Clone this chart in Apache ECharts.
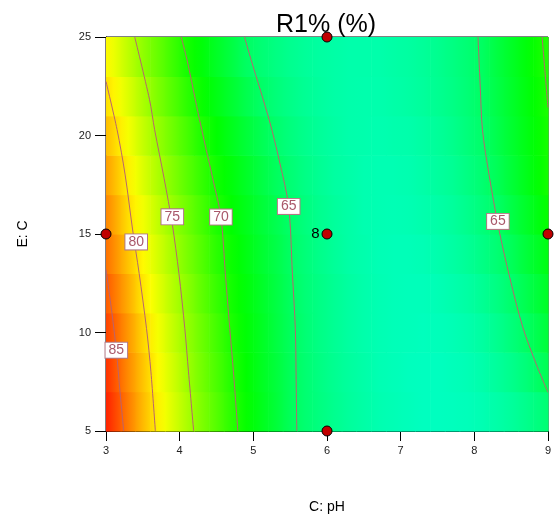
<!DOCTYPE html>
<html>
<head>
<meta charset="utf-8">
<style>html,body{margin:0;padding:0;background:#fff}#chart{width:557px;height:519px}</style>
<script src="https://cdn.jsdelivr.net/npm/echarts@6/dist/echarts.min.js"></script>
</head>
<body>
<div id="chart"></div>
<script>
// cell centres of the response grid (C: pH across, E: C up)
const colX = [3.1, 3.3, 3.5, 3.7, 3.9, 4.1, 4.3, 4.5, 4.7, 4.9,
  5.1, 5.3, 5.5, 5.7, 5.9, 6.1, 6.3, 6.5, 6.7, 6.9,
  7.1, 7.3, 7.5, 7.7, 7.9, 8.1, 8.3, 8.5, 8.7, 8.9];
const rowY = [6, 8, 10, 12, 14, 16, 18, 20, 22, 24];
// R1%, one array per row (bottom to top)
const zRows = [
  [86.5, 84.1, 81.7, 79.5, 77.6, 75.7, 73.9, 72.3, 70.6, 69.2, 68.0, 66.8, 65.5, 64.6, 64.0, 63.4, 62.9, 62.5, 62.1, 61.9, 61.7, 61.5, 61.5, 61.6, 61.7, 62.0, 62.4, 62.9, 63.5, 64.2],
  [85.9, 83.5, 81.3, 79.1, 77.2, 75.2, 73.5, 71.9, 70.3, 69.0, 67.8, 66.7, 65.5, 64.6, 63.9, 63.3, 62.8, 62.4, 62.0, 61.8, 61.6, 61.5, 61.5, 61.7, 61.9, 62.3, 62.9, 63.5, 64.3, 65.3],
  [85.3, 83.0, 80.7, 78.6, 76.7, 74.8, 73.2, 71.6, 70.0, 68.8, 67.7, 66.5, 65.4, 64.5, 63.8, 63.2, 62.7, 62.3, 62.0, 61.8, 61.7, 61.6, 61.7, 61.9, 62.2, 62.7, 63.4, 64.2, 65.1, 66.2],
  [84.4, 82.2, 79.9, 78.0, 76.1, 74.4, 72.7, 71.1, 69.7, 68.6, 67.5, 66.4, 65.3, 64.4, 63.8, 63.2, 62.7, 62.3, 62.0, 61.8, 61.7, 61.7, 61.9, 62.2, 62.6, 63.2, 63.9, 64.8, 65.9, 67.0],
  [83.5, 81.3, 79.2, 77.3, 75.5, 73.8, 72.2, 70.6, 69.4, 68.3, 67.2, 66.2, 65.1, 64.3, 63.6, 63.0, 62.5, 62.2, 61.9, 61.8, 61.8, 61.9, 62.2, 62.6, 63.1, 63.8, 64.5, 65.5, 66.7, 67.8],
  [82.6, 80.3, 78.5, 76.6, 74.9, 73.3, 71.7, 70.1, 69.0, 68.0, 66.9, 65.9, 64.9, 64.1, 63.4, 62.9, 62.5, 62.1, 62.0, 61.9, 62.0, 62.2, 62.5, 62.9, 63.5, 64.2, 65.0, 66.2, 67.4, 68.6],
  [81.7, 79.5, 77.6, 75.8, 74.1, 72.5, 71.0, 69.6, 68.6, 67.5, 66.4, 65.4, 64.5, 63.8, 63.2, 62.7, 62.4, 62.1, 62.0, 62.0, 62.1, 62.4, 62.8, 63.2, 63.9, 64.6, 65.6, 66.8, 68.0, 69.2],
  [80.6, 78.6, 76.7, 74.9, 73.3, 71.7, 70.1, 69.0, 67.9, 66.8, 65.8, 64.8, 64.1, 63.5, 63.0, 62.6, 62.3, 62.2, 62.1, 62.2, 62.3, 62.6, 63.0, 63.5, 64.2, 64.9, 66.0, 67.1, 68.2, 69.3],
  [79.4, 77.6, 75.7, 73.9, 72.3, 70.7, 69.3, 68.2, 67.1, 66.0, 65.0, 64.3, 63.7, 63.2, 62.8, 62.5, 62.3, 62.2, 62.2, 62.4, 62.6, 62.9, 63.3, 63.8, 64.4, 65.1, 66.2, 67.3, 68.4, 69.5],
  [78.3, 76.4, 74.6, 73.0, 71.4, 69.8, 68.7, 67.5, 66.4, 65.2, 64.5, 63.9, 63.4, 63.0, 62.7, 62.5, 62.3, 62.3, 62.3, 62.5, 62.7, 63.0, 63.4, 63.9, 64.5, 65.2, 66.4, 67.5, 68.6, 69.8]
];

// contour lines: [pH, E]
const c85 = [[3.24, 5], [3.19, 7], [3.14, 9.1], [3.08, 11], [3.0, 13.2]];
const c80 = [[3.67, 5], [3.61, 8], [3.55, 10.2], [3.45, 13], [3.36, 15.25], [3.26, 18], [3.15, 20.3], [3.0, 22.74]];
const c75 = [[4.19, 5], [4.12, 8], [4.07, 10.2], [3.99, 13], [3.90, 15.5], [3.79, 17.8], [3.66, 20.3], [3.59, 21.84], [3.39, 25]];
const c70 = [[4.79, 5], [4.73, 8], [4.68, 10.2], [4.62, 13], [4.56, 15.86], [4.45, 17.8], [4.27, 20.8], [4.10, 23.84], [4.02, 25]];
const c65 = [[5.59, 5], [5.58, 8], [5.57, 10.2], [5.53, 13], [5.48, 16.4], [5.36, 18.6], [5.22, 20.73], [4.97, 23.84], [4.88, 25]];
const c65r = [[8.05, 25], [8.08, 22.5], [8.11, 20.3], [8.20, 18], [8.33, 15.3], [8.48, 12.8], [8.66, 10.24], [8.85, 8.3], [9.0, 6.96]];
const c70r = [[8.92, 25], [8.96, 23.2], [9.0, 21.42]];
const contours = [c85, c80, c75, c70, c65, c65r, c70r];

const labelX = [3.14, 3.41, 3.90, 4.56, 5.48, 8.32];
const labelY = [9.1, 14.6, 15.87, 15.86, 16.4, 15.64];
const labelText = ['85', '80', '75', '70', '65', '65'];

// design points and replicate count
const pointX = [3, 6, 6, 6, 9];
const pointY = [15, 25, 15, 5, 15];
const pointRuns = [1, 1, 8, 1, 1];

const halfW = 0.1, halfH = 1;
const zMin = 49, zMax = 89;
const ramp = ['#0000ff', '#00ffff', '#00ff00', '#ffff00', '#ff0000'];
const toColor = z => echarts.color.lerp(Math.max(0, Math.min(1, (z - zMin) / (zMax - zMin))), ramp);

const cells = [];
rowY.forEach((y, r) => colX.forEach((x, c) => cells.push([x, y, zRows[r][c], r, c])));

const lineColor = '#b9636f';
const font = 'Liberation Sans, Arial, sans-serif';

const chart = echarts.init(document.getElementById('chart'));
const option = {
  animation: false,
  title: {
    text: 'R1% (%)',
    left: 271,
    top: 8,
    textStyle: { fontSize: 25, fontWeight: 'normal', color: '#000', fontFamily: font }
  },
  grid: {
    left: 106, right: 9, top: 37, bottom: 85,
    show: true, borderColor: '#000', borderWidth: 1, backgroundColor: 'transparent'
  },
  xAxis: {
    type: 'value', min: 3, max: 9, interval: 1,
    name: 'C: pH', nameLocation: 'middle', nameGap: 69,
    nameTextStyle: { fontSize: 14, color: '#000', fontFamily: font },
    axisLine: { lineStyle: { color: '#000' } },
    axisTick: { length: 10, lineStyle: { color: '#000' } },
    axisLabel: { fontSize: 11, color: '#222', margin: 14, fontFamily: font },
    splitLine: { show: false }
  },
  yAxis: {
    type: 'value', min: 5, max: 25, interval: 5,
    name: 'E: C', nameLocation: 'middle', nameGap: 76,
    nameTextStyle: { fontSize: 14, color: '#000', fontFamily: font },
    axisLine: { lineStyle: { color: '#000' } },
    axisTick: { length: 11, lineStyle: { color: '#000' } },
    axisLabel: { fontSize: 11, color: '#222', margin: 15, fontFamily: font },
    splitLine: { show: false }
  },
  series: [
    {
      type: 'custom',
      silent: true,
      z: 1,
      data: cells,
      encode: { x: 0, y: 1 },
      renderItem: function (params, api) {
        const x = api.value(0), y = api.value(1);
        const r = api.value(3), c = api.value(4);
        const row = zRows[r];
        const zc = row[c];
        const zl = c > 0 ? (row[c - 1] + zc) / 2 : zc - (row[c + 1] - zc) / 2;
        const zr = c < row.length - 1 ? (row[c + 1] + zc) / 2 : zc + (zc - row[c - 1]) / 2;
        const p0 = api.coord([x - halfW, y + halfH]);
        const p1 = api.coord([x + halfW, y - halfH]);
        return {
          type: 'rect',
          shape: { x: p0[0], y: p0[1], width: p1[0] - p0[0] + 0.6, height: p1[1] - p0[1] + 0.6 },
          style: {
            fill: {
              type: 'linear', x: 0, y: 0, x2: 1, y2: 0,
              colorStops: [
                { offset: 0, color: toColor(zl) },
                { offset: 0.5, color: toColor(zc) },
                { offset: 1, color: toColor(zr) }
              ]
            }
          }
        };
      }
    }
  ].concat(contours.map(pts => ({
    type: 'line',
    data: pts,
    smooth: 0.3,
    symbol: 'none',
    silent: true,
    z: 2,
    lineStyle: { color: lineColor, width: 1 }
  }))).concat([
    {
      // contour value tags
      type: 'custom',
      silent: true,
      z: 3,
      data: labelText.map((t, i) => [labelX[i], labelY[i]]),
      encode: { x: 0, y: 1 },
      renderItem: function (params, api) {
        const p = api.coord([api.value(0), api.value(1)]);
        return {
          type: 'text',
          x: p[0], y: p[1],
          style: {
            text: labelText[params.dataIndex],
            align: 'center', verticalAlign: 'middle',
            fontSize: 14, fontFamily: font, fill: '#a9586a',
            backgroundColor: '#ffffff', borderColor: '#b27884', borderWidth: 1,
            padding: [1, 3, 0, 3]
          }
        };
      }
    },
    {
      type: 'scatter',
      silent: true,
      z: 4,
      clip: false,
      symbolSize: 10,
      itemStyle: { color: '#c00000', borderColor: '#000', borderWidth: 1, opacity: 1 },
      data: pointX.map((x, i) => ({
        value: [x, pointY[i]],
        label: {
          show: pointRuns[i] > 1, formatter: String(pointRuns[i]), position: 'left',
          distance: 2, fontSize: 15, color: '#000', fontFamily: font
        }
      }))
    }
  ])
};
chart.setOption(option);
</script>
</body>
</html>
